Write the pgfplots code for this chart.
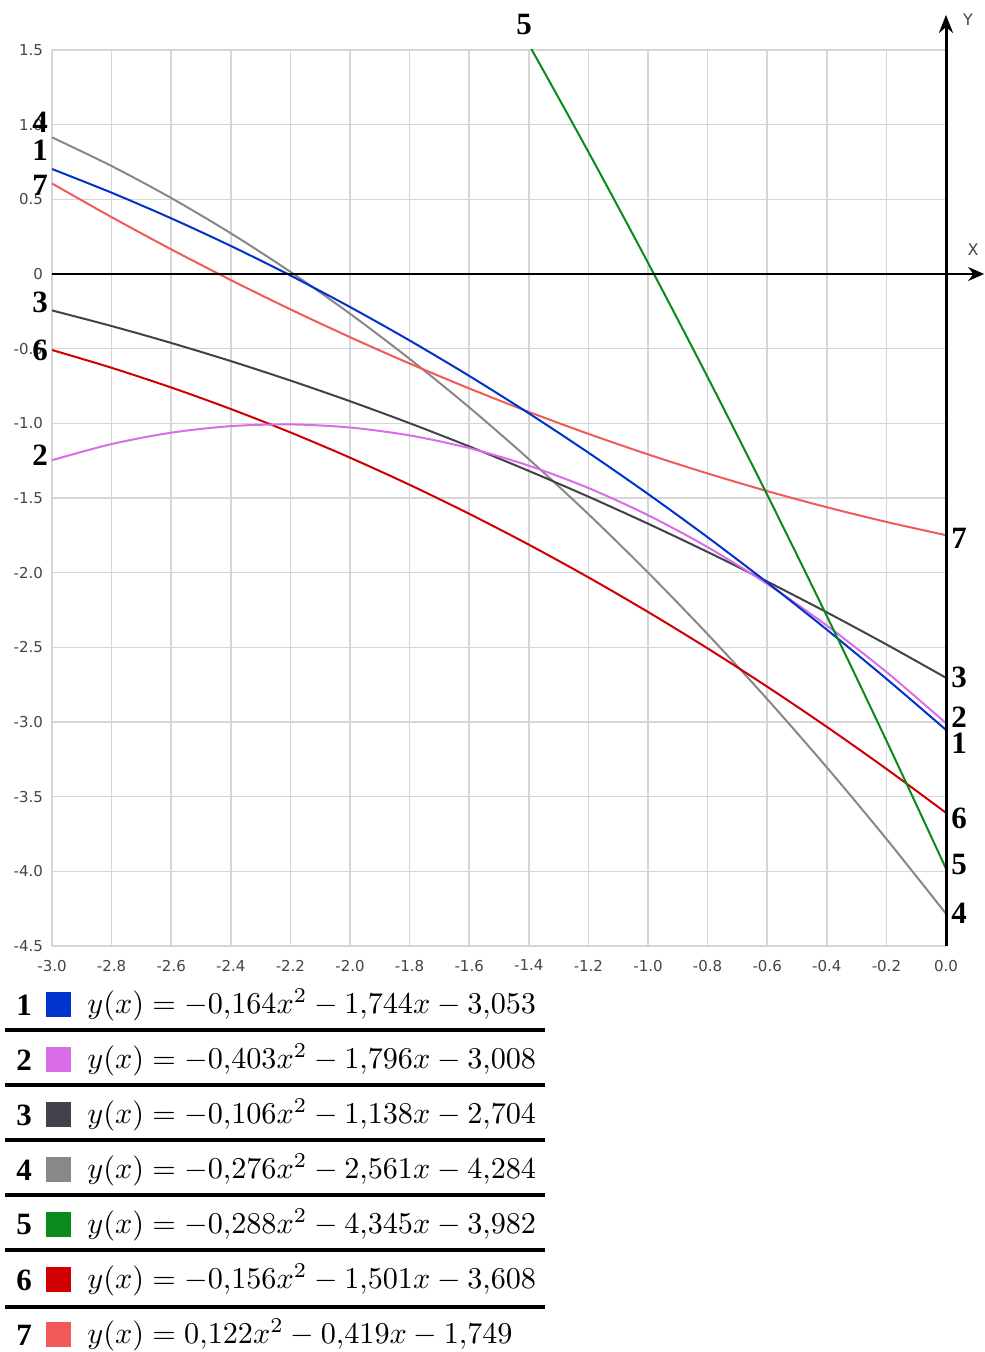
\documentclass[border=0pt]{standalone}
\usepackage{graphicx}
\usepackage[no-math]{fontspec}
\setmainfont{Liberation Serif}
\newfontfamily\tickfont{DejaVu Sans}
\usepackage{pgfplots}
\pgfplotsset{compat=1.18}
\usetikzlibrary{arrows.meta}
\definecolor{c1}{HTML}{0033CC}
\definecolor{c2}{HTML}{D96DE8}
\definecolor{c3}{HTML}{42424A}
\definecolor{c4}{HTML}{888888}
\definecolor{c5}{HTML}{0A8A1A}
\definecolor{c6}{HTML}{D00000}
\definecolor{c7}{HTML}{F05A5A}
\definecolor{gridgray}{HTML}{D6D6D6}
\definecolor{labelgray}{HTML}{444444}
\begin{document}
\begin{tikzpicture}[x=0.5pt,y=0.5pt]
\useasboundingbox (0,0) rectangle (984,1352);
\begin{axis}[
  at={(26pt,203pt)}, anchor=south west,
  scale only axis, width=447pt, height=448pt,
  xmin=-3, xmax=0, ymin=-4.5, ymax=1.5,
  xtick={-3,-2.8,-2.6,-2.4,-2.2,-2,-1.8,-1.6,-1.4,-1.2,-1,-0.8,-0.6,-0.4,-0.2,0},
  xticklabels={-3.0,-2.8,-2.6,-2.4,-2.2,-2.0,-1.8,-1.6,-1.4,-1.2,-1.0,-0.8,-0.6,-0.4,-0.2,0.0},
  ytick={-4.5,-4,-3.5,-3,-2.5,-2,-1.5,-1,-0.5,0,0.5,1,1.5},
  yticklabels={-4.5,-4.0,-3.5,-3.0,-2.5,-2.0,-1.5,-1.0,-0.5,0,0.5,1.0,1.5},
  grid=major, major grid style={draw=gridgray, line width=0.75pt},
  axis line style={draw=none},
  major tick length=0pt,
  tick label style={font=\tickfont\fontsize{7.5}{8}\selectfont, text=labelgray},
  xticklabel style={yshift=-3.5pt},
  yticklabel style={xshift=-1pt},
  clip mode=individual,
]
\addplot[c4, line width=1pt, smooth] coordinates {(-3,0.915) (-2.8,0.72296) (-2.6,0.50884) (-2.4,0.27264) (-2.2,0.01436) (-2,-0.266) (-1.8,-0.56844) (-1.6,-0.89296) (-1.4,-1.23956) (-1.2,-1.60824) (-1,-1.999) (-0.8,-2.41184) (-0.6,-2.84676) (-0.4,-3.30376) (-0.2,-3.78284) (0,-4.284)};
\addplot[c7, line width=1pt, smooth] coordinates {(-3,0.606) (-2.8,0.38068) (-2.6,0.16512) (-2.4,-0.04068) (-2.2,-0.23672) (-2,-0.423) (-1.8,-0.59952) (-1.6,-0.76628) (-1.4,-0.92328) (-1.2,-1.07052) (-1,-1.208) (-0.8,-1.33572) (-0.6,-1.45368) (-0.4,-1.56188) (-0.2,-1.66032) (0,-1.749)};
\addplot[c3, line width=1pt, smooth] coordinates {(-3,-0.244) (-2.8,-0.34864) (-2.6,-0.46176) (-2.4,-0.58336) (-2.2,-0.71344) (-2,-0.852) (-1.8,-0.99904) (-1.6,-1.15456) (-1.4,-1.31856) (-1.2,-1.49104) (-1,-1.672) (-0.8,-1.86144) (-0.6,-2.05936) (-0.4,-2.26576) (-0.2,-2.48064) (0,-2.704)};
\addplot[c6, line width=1pt, smooth] coordinates {(-3,-0.509) (-2.8,-0.62824) (-2.6,-0.75996) (-2.4,-0.90416) (-2.2,-1.06084) (-2,-1.23) (-1.8,-1.41164) (-1.6,-1.60576) (-1.4,-1.81236) (-1.2,-2.03144) (-1,-2.263) (-0.8,-2.50704) (-0.6,-2.76356) (-0.4,-3.03256) (-0.2,-3.31404) (0,-3.608)};
\addplot[c2, line width=1pt, smooth] coordinates {(-3,-1.247) (-2.8,-1.13872) (-2.6,-1.06268) (-2.4,-1.01888) (-2.2,-1.00732) (-2,-1.028) (-1.8,-1.08092) (-1.6,-1.16608) (-1.4,-1.28348) (-1.2,-1.43312) (-1,-1.615) (-0.8,-1.82912) (-0.6,-2.07548) (-0.4,-2.35408) (-0.2,-2.66492) (0,-3.008)};
\addplot[c1, line width=1pt, smooth] coordinates {(-3,0.703) (-2.8,0.54444) (-2.6,0.37276) (-2.4,0.18796) (-2.2,-0.00996) (-2,-0.221) (-1.8,-0.44516) (-1.6,-0.68244) (-1.4,-0.93284) (-1.2,-1.19636) (-1,-1.473) (-0.8,-1.76276) (-0.6,-2.06564) (-0.4,-2.38164) (-0.2,-2.71076) (0,-3.053)};
\addplot[c5, line width=1pt, smooth] coordinates {(-1.6,2.23272) (-1.4,1.53652) (-1.2,0.81728) (-1,0.075) (-0.8,-0.69032) (-0.6,-1.47868) (-0.4,-2.29008) (-0.2,-3.12452) (0,-3.982)};
\draw[black, line width=1pt, -{Stealth[length=8pt,width=7pt]}] (axis cs:-3,0) -- (axis cs:0.128,0);
\draw[black, line width=1.5pt, -{Stealth[length=9pt,width=7pt]}] (axis cs:0,-4.5) -- (axis cs:0,1.735);
\end{axis}
% axis names
\node[font=\tickfont\fontsize{8}{8}\selectfont, text=labelgray] at (968,1332) {Y};
\node[font=\tickfont\fontsize{8}{8}\selectfont, text=labelgray] at (973,1102) {X};
% curve labels
\begin{scope}[every node/.style={font=\bfseries\fontsize{15.5}{15.5}\selectfont, inner sep=0pt}]
\node at (40,1230) {4};
\node at (40,1202) {1};
\node at (40,1167) {7};
\node at (40,1050) {3};
\node at (40,1002) {6};
\node at (40,897) {2};
\node at (959,814) {7};
\node at (959,675) {3};
\node at (959,635) {2};
\node at (959,609) {1};
\node at (959,534) {6};
\node at (959,487) {5};
\node at (959,439) {4};
\node at (524,1327) {5};
\end{scope}
% legend table
\foreach \yy in {322,267,212,157,102,45} {\draw[black, line width=2pt] (5,\yy) -- (545,\yy);}
\begin{scope}[every node/.style={inner sep=0pt}]
\newcommand{\legrow}[4]{%
  \node[font=\bfseries\fontsize{15.5}{15.5}\selectfont] at (24,#1) {#2};
  \fill[#3] (46,#1-12.5) rectangle (71,#1+12.5);
  \node[anchor=west] at (87,#1) {\scalebox{1.51}{#4}};
}
\legrow{347}{1}{c1}{$y(x) = -0{,}164x^2 - 1{,}744x - 3{,}053$}
\legrow{292}{2}{c2}{$y(x) = -0{,}403x^2 - 1{,}796x - 3{,}008$}
\legrow{237}{3}{c3}{$y(x) = -0{,}106x^2 - 1{,}138x - 2{,}704$}
\legrow{182}{4}{c4}{$y(x) = -0{,}276x^2 - 2{,}561x - 4{,}284$}
\legrow{127}{5}{c5}{$y(x) = -0{,}288x^2 - 4{,}345x - 3{,}982$}
\legrow{72}{6}{c6}{$y(x) = -0{,}156x^2 - 1{,}501x - 3{,}608$}
\legrow{17}{7}{c7}{$y(x) = 0{,}122x^2 - 0{,}419x - 1{,}749$}
\end{scope}
\end{tikzpicture}
\end{document}
